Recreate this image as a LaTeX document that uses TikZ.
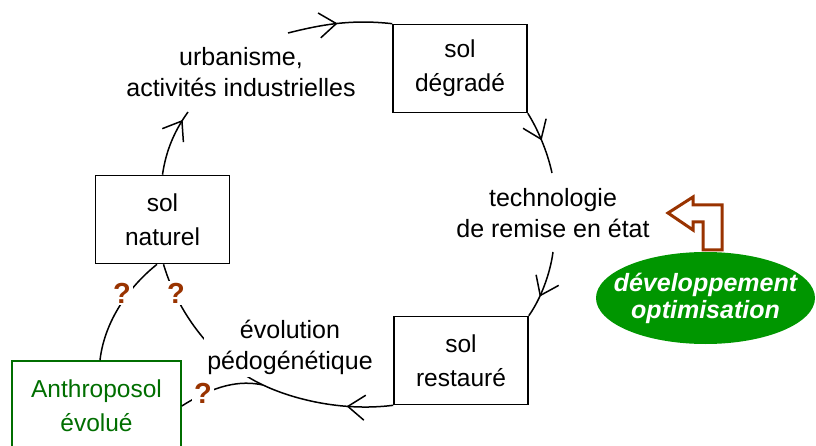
\documentclass[tikz,border=0pt]{standalone}
\usepackage{fontspec}
\setmainfont{Liberation Sans}
\usetikzlibrary{arrows.meta,decorations.markings,shapes.geometric}
\definecolor{qbrown}{RGB}{153,51,0}
\definecolor{dgreen}{RGB}{0,110,0}
\definecolor{fgreen}{RGB}{0,150,0}
\tikzset{
 box/.style={draw, line width=1.6pt, rectangle, minimum width=134pt, minimum height=88pt, inner sep=0pt, align=center, font=\fontsize{24.5}{34}\selectfont},
 lbl/.style={align=center, inner sep=3pt, font=\fontsize{25}{31}\selectfont},
 conn/.style={line width=1.5pt},
 qm/.style={text=qbrown, fill=white, font=\fontsize{29}{30}\selectfont\bfseries, inner sep=2pt},
 arrowat/.style={postaction={decorate}, decoration={markings, mark=at position #1 with {\arrow{Straight Barb[length=17pt,width=25pt,line width=1.5pt]}}}},
}
\begin{document}
\begin{tikzpicture}[x=1pt,y=-1pt]
\useasboundingbox (0,0) rectangle (816,446);
\clip (0,0) rectangle (816,446);
% boxes
\node[box] (degrade) at (460,68.5) {sol\\dégradé};
\node[box] (naturel) at (162.5,219.5) {sol\\naturel};
\node[box] (restaure) at (461,360.5) {sol\\restauré};
\node[box, draw=dgreen, text=dgreen, minimum width=169pt, minimum height=90pt] (anthro) at (96.5,406) {Anthroposol\\évolué};
% labels
\node[lbl] (urban) at (241,72) {urbanisme,\\activités industrielles};
\node[lbl] (techno) at (553,213.5) {technologie\\de remise en état};
\node[ellipse, fill=fgreen, minimum width=219pt, minimum height=92pt, inner xsep=-15pt, inner ysep=6pt, text=white, font=\fontsize{25}{27}\selectfont\bfseries\itshape, align=center] (devel) at (705.5,298) {développement\\optimisation};
% block arrow
\draw[qbrown, line width=3pt, line join=miter, fill=white] (668,213) -- (693,197) -- (693,205) -- (722,205) -- (722,250) -- (703,250) -- (703,222) -- (693,222) -- (693,230) -- cycle;
% free ends
\coordinate (u1) at (188,112);
\coordinate (u2) at (288,33);
\coordinate (t1) at (552,173);
\coordinate (t2) at (553,252);
\coordinate (J) at (263,385);
% connectors
\draw[conn, arrowat=0.86] (naturel.north) .. controls (166,150) and (175,130) .. (u1);
\draw[conn, arrowat=0.48] (u2) .. controls (320,25) and (350,19) .. (degrade.north west);
\draw[conn, arrowat=0.47] (degrade.south east) .. controls (537,128) and (547,150) .. (t1);
\draw[conn, arrowat=0.68] (t2) .. controls (550,275) and (540,300) .. (restaure.north east);
\draw[conn, arrowat=0.35] (restaure.south west) .. controls (340,412) and (290,398) .. (J);
\draw[conn] (J) .. controls (220,365) and (180,320) .. ([xshift=1pt]naturel.south);
\draw[conn] (J) .. controls (240,380) and (215,385) .. (anthro.east);
\draw[conn] ([xshift=-5.5pt]naturel.south) .. controls (125,290) and (104,325) .. ([xshift=3.5pt]anthro.north);
% masking labels
\node[lbl, fill=white] (evol) at (290,347) {évolution\\pédogénétique};
\node[qm] (q1) at (122,293) {?};
\node[qm] (q2) at (176,293) {?};
\node[qm] (q3) at (203,393) {?};
\end{tikzpicture}
\end{document}
